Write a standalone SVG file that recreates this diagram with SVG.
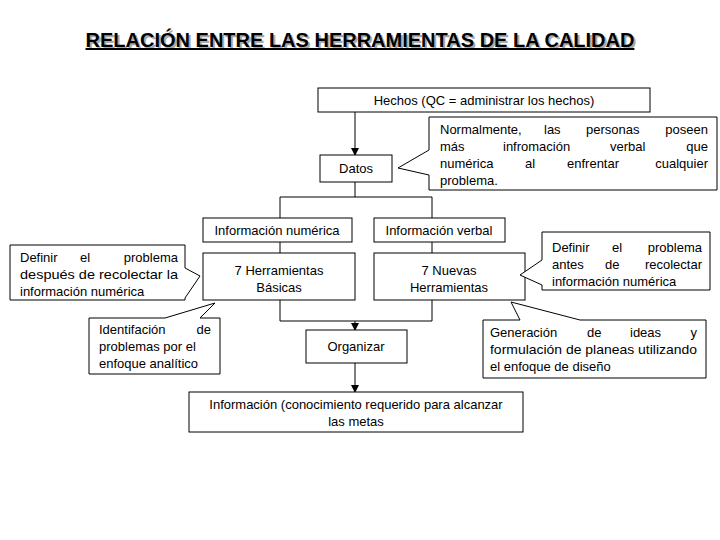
<svg xmlns="http://www.w3.org/2000/svg" width="720" height="540" viewBox="0 0 720 540">
<style>
.b{fill:#fff;stroke:#000;stroke-width:1}
.t{font-family:"Liberation Sans",Arial,sans-serif;font-size:13px;fill:#000}
.c{text-anchor:middle}
.e{text-anchor:end}
.l{fill:none;stroke:#000;stroke-width:1}
</style>
<defs><marker id="a" markerWidth="8" markerHeight="8" refX="7" refY="4" orient="auto" markerUnits="userSpaceOnUse"><path d="M0,0L8,4L0,8z"/></marker></defs>
<rect width="720" height="540" fill="#fff"/>
<g id="title">
<text x="362" y="49" text-anchor="middle" font-family="Liberation Sans,Arial,sans-serif" font-size="20" font-weight="bold" fill="#aaa">RELACIÓN ENTRE LAS HERRAMIENTAS DE LA CALIDAD</text>
<text x="360" y="47" text-anchor="middle" font-family="Liberation Sans,Arial,sans-serif" font-size="20" font-weight="bold" text-decoration="underline">RELACIÓN ENTRE LAS HERRAMIENTAS DE LA CALIDAD</text>
</g>
<g id="connectors">
<line class="l" x1="355" y1="112" x2="355" y2="155" marker-end="url(#a)"/>
<path class="l" d="M355,182V197M280,218V197H432V218M280,242V253M432,242V253M280,300V321H432V300"/>
<line class="l" x1="355" y1="321" x2="355" y2="330" marker-end="url(#a)"/>
<line class="l" x1="355" y1="363" x2="355" y2="392" marker-end="url(#a)"/>
</g>
<g id="hechos"><rect class="b" x="318" y="88" width="332" height="24"/><text class="t c" x="484" y="105">Hechos (QC = administrar los hechos)</text></g>
<g id="datos"><rect class="b" x="320" y="155" width="72" height="27"/><text class="t c" x="356" y="173">Datos</text></g>
<g id="nota1"><path class="b" d="M429,117H717V190H429V175L398,168L429,150Z"/>
<text class="t" y="134"><tspan x="440">Normalmente,</tspan><tspan x="544">las</tspan><tspan x="586">personas</tspan></text><text class="t e" x="708" y="134">poseen</text>
<text class="t" y="151"><tspan x="440">más</tspan><tspan x="503">infromación</tspan><tspan x="610">verbal</tspan></text><text class="t e" x="708" y="151">que</text>
<text class="t" y="168"><tspan x="440">numérica</tspan><tspan x="525">al</tspan><tspan x="567">enfrentar</tspan></text><text class="t e" x="708" y="168">cualquier</text>
<text class="t" x="440" y="185">problema.</text></g>
<g id="infnum"><rect class="b" x="203" y="218" width="149" height="24"/><text class="t c" x="277" y="235">Información numérica</text></g>
<g id="infverb"><rect class="b" x="374" y="218" width="131" height="24"/><text class="t c" x="439" y="235">Información verbal</text></g>
<g id="herr"><rect class="b" x="203" y="253" width="152" height="47"/><text class="t c" x="279" y="275">7 Herramientas</text><text class="t c" x="279" y="292">Básicas</text></g>
<g id="nuevas"><rect class="b" x="374" y="253" width="151" height="47"/><text class="t c" x="449" y="275">7 Nuevas</text><text class="t c" x="449" y="292">Herramientas</text></g>
<g id="nota2"><path class="b" d="M10,245H185V268L200,276L185,298V300H10Z"/>
<text class="t" y="262"><tspan x="20">Definir</tspan><tspan x="80">el</tspan></text><text class="t e" x="178" y="262">problema</text>
<text class="t" x="20" y="279" textLength="158" lengthAdjust="spacingAndGlyphs">después de recolectar la</text>
<text class="t" x="20" y="296">información numérica</text></g>
<g id="nota3"><path class="b" d="M542,232H710V290H542V285L520,275L542,260Z"/>
<text class="t" y="252"><tspan x="552">Definir</tspan><tspan x="612">el</tspan></text><text class="t e" x="702" y="252">problema</text>
<text class="t" y="269"><tspan x="552">antes</tspan><tspan x="605">de</tspan></text><text class="t e" x="702" y="269">recolectar</text>
<text class="t" x="552" y="286">información numérica</text></g>
<g id="nota4"><path class="b" d="M89,318H165L215,303L200,318H220V374H89Z"/>
<text class="t" x="99" y="334">Identifación</text><text class="t e" x="211" y="334">de</text>
<text class="t" x="99" y="351">problemas por el</text>
<text class="t" x="99" y="368">enfoque analítico</text></g>
<g id="organizar"><rect class="b" x="306" y="330" width="101" height="33"/><text class="t c" x="356" y="351">Organizar</text></g>
<g id="nota5"><path class="b" d="M483,320H520L511,302L580,320H706V378H483Z"/>
<text class="t" y="337"><tspan x="490">Generación</tspan><tspan x="587">de</tspan><tspan x="630">ideas</tspan></text><text class="t e" x="697" y="337">y</text>
<text class="t" x="490" y="354" textLength="207" lengthAdjust="spacingAndGlyphs">formulación de planeas utilizando</text>
<text class="t" x="490" y="371">el enfoque de diseño</text></g>
<g id="informacion"><rect class="b" x="189" y="392" width="334" height="40"/><text class="t c" x="356" y="409">Información (conocimiento requerido para alcanzar</text><text class="t c" x="356" y="426">las metas</text></g>
</svg>
